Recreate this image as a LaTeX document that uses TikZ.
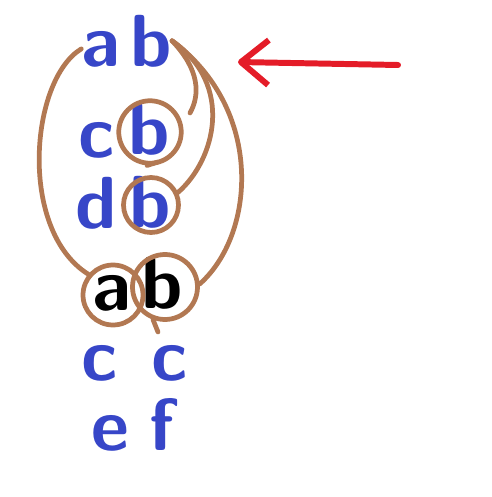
\documentclass[tikz,border=0pt]{standalone}
\usetikzlibrary{positioning,calc,arrows.meta}
\definecolor{inkblue}{RGB}{55,70,200}
\definecolor{inkbrown}{RGB}{178,120,82}
\definecolor{inkred}{RGB}{228,28,40}

\begin{document}
\begin{tikzpicture}[x=0.02cm,y=-0.02cm,
  letter/.style = {text=inkblue, anchor=base, inner sep=0pt,
    font=\fontsize{42}{42}\selectfont\sffamily\bfseries},
  key/.style = {letter, text=black},
  ring/.style = {draw=inkbrown, line width=2.7pt, circle, inner sep=0pt},
  loop/.style = {draw=inkbrown, line width=2.7pt, line cap=round},
  pointer/.style = {draw=inkred, line width=3.4pt, line cap=round,
    -{Straight Barb[length=0.55cm,width=0.9cm,line join=round]}}
  ]
  \useasboundingbox (0,0) rectangle (491,497);
  % rows of letters
  \node[letter] (a1) at (101,66) {a};
  \node[letter] (b1) at (151,66) {b};
  \node[letter] (c2) at (97,157) {c};
  \node[letter] (b2) at (149,154) {b};
  \node[letter] (d3) at (96,228) {d};
  \node[letter] (b3) at (150,227) {b};
  \node[key] (a4) at (112,310) {a};
  \node[key] (b4) at (162,308) {b};
  \node[letter] (c5) at (100,380) {c};
  \node[letter] (c6) at (170,380) {c};
  \node[letter] (e6) at (110,450) {e};
  \node[letter] (f6) at (162,450) {f};
  % circles
  \node[ring, minimum size=1.25cm] (r2) at (150,132) {};
  \node[ring, minimum size=1.1cm] (r3) at (151,205) {};
  \node[ring, minimum size=1.2cm] (ra) at (113,295) {};
  \node[ring, minimum size=1.3cm] (rb) at (165,287) {};
  \coordinate (hook) at (190,113);
  \coordinate (tail2) at (158,162);
  \coordinate (tailb) at (158,332);
  \coordinate (from) at (398,65);
  % loops
  \draw[loop] (a1.west) .. controls (30,80) and (18,230) .. (ra.140);
  \draw[loop] (b1.east) .. controls (200,70) and (200,95) .. (hook);
  \draw[loop] (b1.east) .. controls (235,85) and (215,160) .. (r3.25);
  \draw[loop] (b1.east) .. controls (265,110) and (255,235) .. (rb.5);
  \draw[loop] (r2.265) -- (tail2);
  \draw[loop] (rb.250) -- (tailb);
  % arrow
  \draw[pointer] (from) -- (238,62);
\end{tikzpicture}
\end{document}
